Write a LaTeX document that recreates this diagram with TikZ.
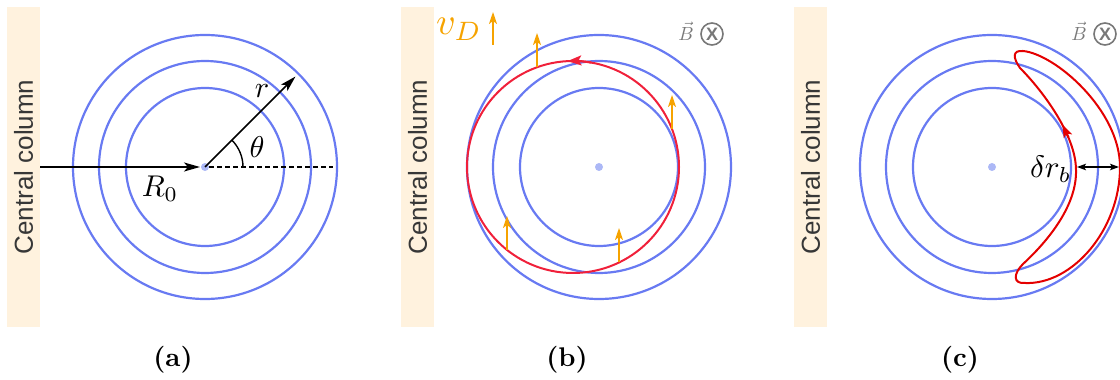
\documentclass[tikz,border=0pt]{standalone}
\usepackage{fontspec}
\newfontfamily\colfont{Liberation Sans}
\usetikzlibrary{arrows.meta}
\definecolor{ringblue}{RGB}{104,122,242}
\definecolor{colfill}{RGB}{255,242,222}
\definecolor{coltextgray}{RGB}{55,55,55}
\definecolor{dotblue}{RGB}{172,184,246}
\definecolor{trajbred}{RGB}{240,32,58}
\definecolor{trajcred}{RGB}{228,0,0}
\definecolor{vdorange}{RGB}{246,163,0}
\definecolor{bgray}{RGB}{120,120,120}
\tikzset{
  ring/.style={draw=ringblue, line width=2.2pt},
  blackarrow/.style={line width=1.5pt, -{Stealth[length=16pt,width=9pt,inset=4pt]}},
  vdarrow/.style={draw=vdorange, line width=1.7pt, -{Stealth[length=12pt,width=8pt,inset=3pt]}},
  coltext/.style={font=\colfont\fontsize{26}{30}\selectfont, text=coltextgray, rotate=90},
  mathlabel/.style={font=\normalsize, inner sep=0pt, scale=3.0},
  panellabel/.style={font=\normalsize\bfseries, inner sep=0pt, scale=2.7},
  trajb/.style={draw=trajbred, line width=2pt},
  trajc/.style={draw=trajcred, line width=2pt},
  panelbase/.pic={
    \fill[colfill] (7,53) rectangle (40,373);
    \node[coltext] (-col) at (23.5,213) {Central column};
    \draw[ring] (205,213) circle[radius=79];
    \draw[ring] (205,213) circle[radius=106];
    \draw[ring] (205,213) circle[radius=132];
    \fill[dotblue] (205,213) circle[radius=4];
    \coordinate (-c) at (205,213);
  },
  bfield/.pic={
    \node[font=\normalsize, scale=1.9, text=bgray, inner sep=0pt] (-b) at (-4,3) {$\vec{B}$};
    \draw[bgray, line width=1.6pt] (22,0) circle[radius=11];
    \node[font=\colfont\bfseries\fontsize{18}{20}\selectfont, text=bgray, inner sep=0pt] (-x) at (22,0) {X};
  }
}
\begin{document}
\begin{tikzpicture}[x=1pt,y=1pt]
\useasboundingbox (0,0) rectangle (1120,380);

% ---------------- panel (a)
\pic (pa) at (0,0) {panelbase};
\coordinate (ra) at (40,213);
\coordinate (rb) at (200,213);
\draw[blackarrow] (ra) -- (rb);
\coordinate (dashend) at (333,213);
\draw[line width=1.4pt, dash pattern=on 5pt off 3pt] (209,213) -- (dashend);
\coordinate (rtip) at (295.5,303.5);
\draw[blackarrow] (pa-c) -- (rtip);
\draw[line width=1.4pt] (243,213) arc[start angle=0, end angle=45, radius=38];
\node[mathlabel] (theta) at (257,233) {$\theta$};
\node[mathlabel] (rlab) at (262,289) {$r$};
\node[mathlabel] (R0) at (160,191) {$R_0$};
\node[panellabel] (la) at (173,20) {(a)};

% ---------------- panel (b)
\begin{scope}[xshift=394pt]
\pic (pb) at (0,0) {panelbase};
\draw[trajb] (179,213) circle[radius=106];
\draw[trajb, -{Stealth[length=14pt,width=10pt,inset=3pt]}] ([shift={(179,213)}]80:106) arc[start angle=80, end angle=93, radius=106];
\draw[vdarrow] (143,313) -- (143,347);
\draw[vdarrow] (278,251) -- (278,285);
\draw[vdarrow] (113,130) -- (113,164);
\draw[vdarrow] (225,118) -- (225,152);
\node[font=\normalsize, scale=3.8, text=vdorange, inner sep=0pt] (vd) at (65,351) {$v_D$};
\draw[vdarrow] (99,335) -- (99,368);
\pic (bb) at (296,346) {bfield};
\node[panellabel] (lb) at (173,20) {(b)};
\end{scope}

% ---------------- panel (c)
\begin{scope}[xshift=787pt]
\pic (pc) at (0,0) {panelbase};
\draw[trajc] (236,329) .. controls (268,326) and (333,270) .. (333,213)
  .. controls (333,150) and (285,95) .. (238,97)
  .. controls (226,96) and (226,106) .. (236,116)
  .. controls (262,140) and (290,175) .. (289,210)
  .. controls (289,245) and (255,290) .. (233,312)
  .. controls (226,322) and (225,330) .. (236,329) -- cycle;
\coordinate (arrs) at (281.5,242.5);
\coordinate (arre) at (275.3,255.5);
\draw[trajc, -{Stealth[length=13pt,width=9pt,inset=3pt]}] (arrs) -- (arre);
\coordinate (dl) at (290,213);
\coordinate (dr) at (332,213);
\draw[line width=1.2pt, {Stealth[length=9pt,width=6.5pt,inset=2pt]}-{Stealth[length=9pt,width=6.5pt,inset=2pt]}] (dl) -- (dr);
\node[font=\normalsize, scale=3.1, inner sep=0pt, anchor=east] (drb) at (285,211) {$\delta r_b$};
\pic (bc) at (296,346) {bfield};
\node[panellabel] (lc) at (173,20) {(c)};
\end{scope}
\end{tikzpicture}
\end{document}
